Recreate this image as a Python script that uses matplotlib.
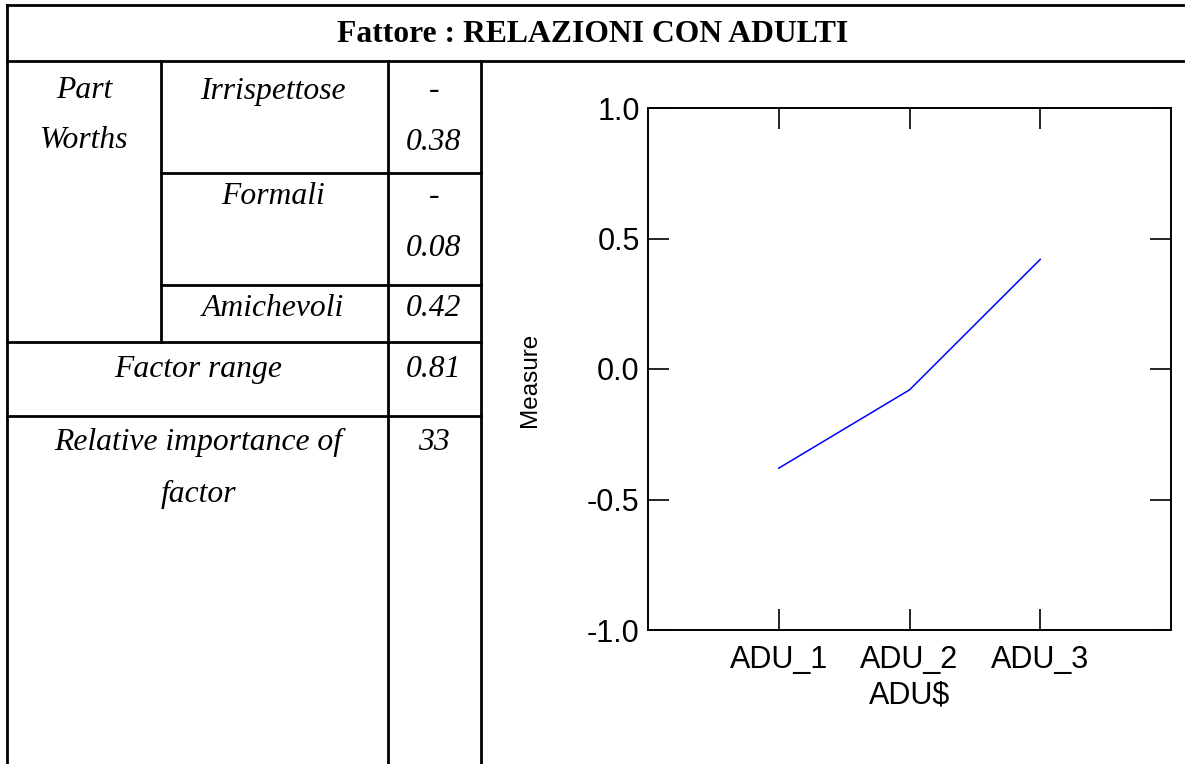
import matplotlib
matplotlib.use("Agg")
import matplotlib.pyplot as plt
from matplotlib.lines import Line2D

# ---- data ----
title = "Fattore : RELAZIONI CON ADULTI"
levels = ["Irrispettose", "Formali", "Amichevoli"]
part_worths = [-0.38, -0.08, 0.42]
factor_range = 0.81
importance = 33
x_codes = ["ADU_1", "ADU_2", "ADU_3"]
y_ticks = [-1.0, -0.5, 0.0, 0.5, 1.0]
x_axis_label = "ADU$"
y_axis_label = "Measure"

W, H = 1185, 764
fig = plt.figure(figsize=(W / 100, H / 100), dpi=100)

def px(x, y):
    return x / W, 1 - y / H

def hline(y, x0, x1, lw=2.0):
    (a, b), (c, d) = px(x0, y), px(x1, y)
    fig.add_artist(Line2D([a, c], [b, d], color="black", lw=lw, transform=fig.transFigure))

def vline(x, y0, y1, lw=2.0):
    (a, b), (c, d) = px(x, y0), px(x, y1)
    fig.add_artist(Line2D([a, c], [b, d], color="black", lw=lw, transform=fig.transFigure))

serif = ["Liberation Serif", "DejaVu Serif"]
tsize = 22.8

def ttext(x, y, s, bold=False, italic=True):
    a, b = px(x, y)
    fig.text(a, b, s, ha="center", va="center", family=serif, fontsize=tsize,
             style="italic" if italic else "normal",
             weight="bold" if bold else "normal")

# ---- table grid ----
L, C1, C2, C3 = 7, 161, 388, 481
hline(5, L, W)
hline(61, L, W)
hline(173, C1, C3)
hline(285, C1, C3)
hline(342, L, C3)
hline(416, L, C3)
vline(L, 5, H)
vline(C1, 61, 342)
vline(C2, 61, H)
vline(C3, 61, H)

ttext(593, 35, title, bold=True, italic=False)
ttext(84, 90, "Part")
ttext(84, 140, "Worths")

row_first = [91, 197, 309]
row_second = [142, 249, None]
for lvl, val, y1, y2 in zip(levels, part_worths, row_first, row_second):
    ttext(273, y1, lvl)
    if val < 0 and y2 is not None:
        ttext(434, y1, "-")
        ttext(434, y2, f"{abs(val):.2f}")
    else:
        ttext(434, y1, f"{val:.2f}")

ttext(198, 370, "Factor range")
ttext(434, 370, f"{factor_range:.2f}")
ttext(198, 442, "Relative importance of")
ttext(198, 494, "factor")
ttext(434, 442, f"{importance}")

# ---- chart ----
sans = ["Liberation Sans", "DejaVu Sans"]
ax = fig.add_axes([648 / W, 1 - 630 / H, 523 / W, 522 / H])
xpos = list(range(1, len(x_codes) + 1))
ax.plot(xpos, part_worths, color="#0000ff", lw=1.1)
ax.set_xlim(0, len(x_codes) + 1)
ax.set_ylim(-1.0, 1.0)
ax.set_xticks(xpos)
ax.set_xticklabels(x_codes, family=sans, fontsize=22)
ax.set_yticks(y_ticks)
ax.set_yticklabels([f"{v:.1f}" for v in y_ticks], family=sans, fontsize=22)
ax.tick_params(direction="in", length=15, width=1.2, top=True, right=True,
               labeltop=False, labelright=False)
ax.tick_params(axis="y", pad=6)
ax.tick_params(axis="x", pad=11)
for sp in ax.spines.values():
    sp.set_linewidth(1.4)
ax.set_xlabel(x_axis_label, family=sans, fontsize=22, labelpad=4)
ax.set_ylabel(y_axis_label, family=sans, fontsize=17.5)
ax.yaxis.set_label_coords((541 - 648) / 523, (630 - 380) / 522)

fig.savefig("out.png", dpi=100)
